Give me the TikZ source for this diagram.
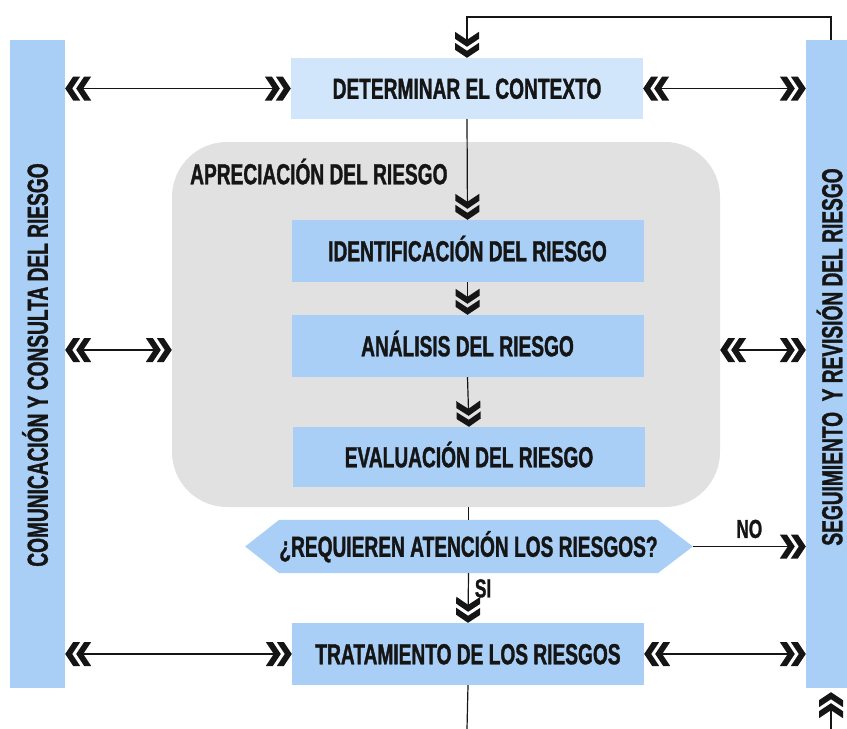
\documentclass[tikz,border=0pt]{standalone}
\usepackage{fontspec}
\setmainfont[FakeStretch=0.66, BoldFeatures={FakeBold=1.2}]{Liberation Sans}
\usetikzlibrary{arrows.meta,backgrounds}
\definecolor{barblue}{HTML}{AACFF6}
\definecolor{lightblue}{HTML}{D2E6FB}
\definecolor{panelgray}{HTML}{E1E1E1}
\definecolor{ink}{HTML}{151515}
\pgfdeclarearrow{
  name = DChev,
  setup code = {
    \pgfarrowssettipend{0pt}
    \pgfarrowssetbackend{-26pt}
    \pgfarrowssetlineend{-15pt}
    \pgfarrowshullpoint{0pt}{0pt}
    \pgfarrowshullpoint{-26pt}{12pt}
    \pgfarrowshullpoint{-26pt}{-12pt}
  },
  drawing code = {
    \pgfpathmoveto{\pgfqpoint{0pt}{0pt}}
    \pgfpathlineto{\pgfqpoint{-8pt}{12pt}}
    \pgfpathlineto{\pgfqpoint{-15pt}{12pt}}
    \pgfpathlineto{\pgfqpoint{-7pt}{0pt}}
    \pgfpathlineto{\pgfqpoint{-15pt}{-12pt}}
    \pgfpathlineto{\pgfqpoint{-8pt}{-12pt}}
    \pgfpathclose
    \pgfpathmoveto{\pgfqpoint{-11pt}{0pt}}
    \pgfpathlineto{\pgfqpoint{-19pt}{12pt}}
    \pgfpathlineto{\pgfqpoint{-26pt}{12pt}}
    \pgfpathlineto{\pgfqpoint{-18pt}{0pt}}
    \pgfpathlineto{\pgfqpoint{-26pt}{-12pt}}
    \pgfpathlineto{\pgfqpoint{-19pt}{-12pt}}
    \pgfpathclose
    \pgfusepathqfill
  }
}
\begin{document}
\begin{tikzpicture}[x=1pt,y=-1pt,
  oneway/.style={-DChev},
  twoway/.style={DChev-DChev},
  conn/.style={draw, color=ink, line width=1.2pt},
  lbl/.style={font=\bfseries\fontsize{29}{32}\selectfont, text=ink, text height=20.5pt, text depth=0pt, inner sep=0pt},
  smalllbl/.style={font=\bfseries\fontsize{26}{28}\selectfont, text=ink, text height=18.5pt, text depth=0pt, inner sep=0pt},
  stepbox/.style={lbl, fill=barblue, minimum width=352pt, minimum height=62pt},
  bar/.style={fill=barblue, minimum width=55pt, minimum height=648pt, inner sep=0pt},
]
\useasboundingbox (0,0) rectangle (847,729);

% side bars
\node[bar] (lb) at (37.5,364) {};
\node[bar, minimum width=50pt] (rb) at (831,364) {};
\node[lbl, rotate=90] (lbt) at (37.5,365) {COMUNICACIÓN Y CONSULTA DEL RIESGO};
\node[lbl, rotate=90] (rbt) at (832,357) {SEGUIMIENTO\ \ Y REVISIÓN DEL RIESGO};

% risk assessment panel
\node[fill=panelgray, rounded corners=55pt, minimum width=548pt, minimum height=365pt, inner sep=0pt] (apr) at (446,324.5) {};
\node[lbl, anchor=west] (aprt) at (190,174) {APRECIACIÓN DEL RIESGO};

% boxes
\node[stepbox, fill=lightblue, minimum height=61pt] (det) at (467,88.5) {DETERMINAR EL CONTEXTO};
\node[stepbox] (ide) at (467.5,251) {IDENTIFICACIÓN DEL RIESGO};
\node[stepbox] (ana) at (467.5,346) {ANÁLISIS DEL RIESGO};
\node[stepbox, minimum height=60pt] (eva) at (469,457) {EVALUACIÓN DEL RIESGO};
\node[lbl, minimum width=353pt, minimum height=53pt] (q) at (468.5,546.5) {¿REQUIEREN ATENCIÓN LOS RIESGOS?};
\begin{scope}[on background layer]
  \fill[barblue] (q.north west) -- (q.north east) -- ([xshift=35pt]q.east) -- (q.south east) -- (q.south west) -- ([xshift=-34pt]q.west) -- cycle;
\end{scope}
\coordinate (qtip) at ([xshift=35pt]q.east);
\node[stepbox] (trat) at (468,654) {TRATAMIENTO DE LOS RIESGOS};

% coordinates for free ends
\coordinate (fb) at (467,17);
\coordinate (bot) at (467,729);
\coordinate (rbbot) at (831,729);

% vertical flow
\draw[conn, oneway] (rb.north) |- (fb) -- (det.north);
\draw[conn, oneway] (det.south) -- (ide.north);
\draw[conn, oneway] (ide.south) -- (ana.north);
\draw[conn, oneway] (ana.south) -- (eva.north);
\draw[conn] (q.north |- apr.south) -- (q.north);
\draw[conn, oneway] (q.south) -- node[smalllbl, pos=0.3, right=6pt] (si) {SI} (trat.north);
\draw[conn] (trat.south) -- (bot);
\draw[conn, oneway, shorten >=4pt] (rbbot) -- (rb.south);
\draw[conn, oneway] (qtip) -- node[smalllbl, midway, above=8pt] (no) {NO} (rb.west |- qtip);

% horizontal two-way links
\draw[conn, twoway] (lb.east |- det.west) -- (det.west);
\draw[conn, twoway] (det.east) -- (rb.west |- det.east);
\draw[conn, twoway] (lb.east |- 0,350) -- (apr.west |- 0,350);
\draw[conn, twoway] (apr.east |- 0,350) -- (rb.west |- 0,350);
\draw[conn, twoway] (lb.east |- trat.west) -- (trat.west);
\draw[conn, twoway] (trat.east) -- (rb.west |- trat.east);
\end{tikzpicture}
\end{document}
